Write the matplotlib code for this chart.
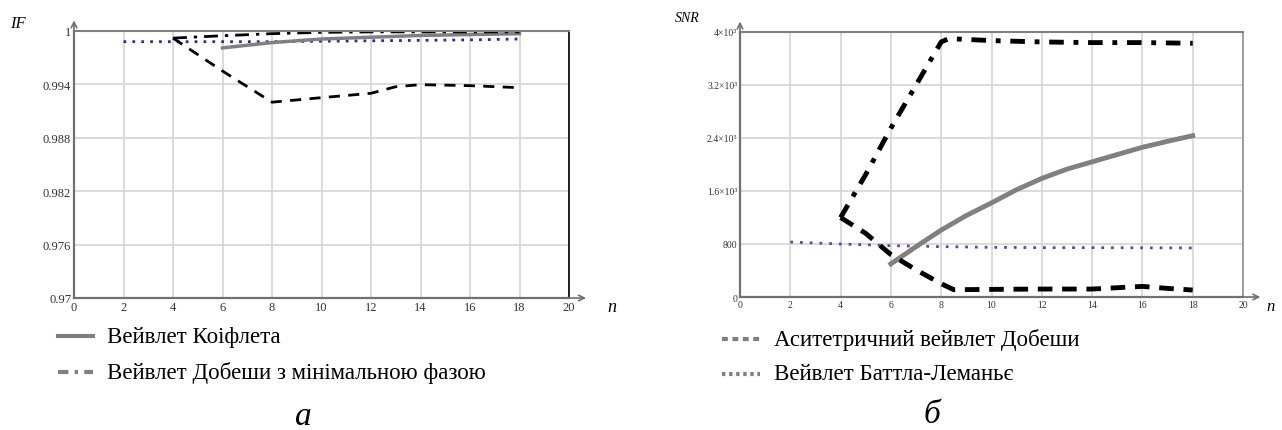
import matplotlib
matplotlib.use("Agg")
import numpy as np
from matplotlib import pyplot as plt
from matplotlib.lines import Line2D

plt.rcParams['font.family'] = ['Liberation Serif', 'DejaVu Serif']

# --- data: panel a (IF) ---
n_coif_a = [6, 8, 10, 12, 14, 16, 18]
if_coif = [0.9981, 0.9987, 0.9991, 0.9993, 0.9995, 0.9996, 0.9997]
n_dmin_a = [4, 6, 8, 10, 12, 14, 16, 18]
if_dmin = [0.9992, 0.99947, 0.9997, 0.99985, 0.9999, 0.9999, 0.9999, 0.9999]
n_dasym_a = [4, 6, 8, 10, 12, 13, 14, 16, 18]
if_dasym = [0.9992, 0.9955, 0.9920, 0.99251, 0.9930, 0.99374, 0.99397, 0.99386, 0.99363]
n_bl_a = [2, 4, 6, 8, 10, 12, 14, 16, 18]
if_bl = [0.9988, 0.9988, 0.9988, 0.9988, 0.99885, 0.9989, 0.99895, 0.999, 0.9991]

# --- data: panel b (SNR) ---
n_coif_b = [6, 7, 8, 9, 10, 11, 12, 13, 14, 15, 16, 17, 18]
snr_coif = [500, 760, 1010, 1230, 1420, 1620, 1790, 1930, 2040, 2150, 2260, 2350, 2435]
n_dmin_b = [4, 5, 6, 7, 8, 8.3, 10, 12, 14, 16, 18]
snr_dmin = [1200, 1850, 2550, 3200, 3850, 3900, 3870, 3850, 3840, 3840, 3830]
n_dasym_b = [4, 5, 6, 7, 8, 8.5, 10, 12, 14, 15, 16, 17, 18]
snr_dasym = [1200, 960, 640, 410, 200, 110, 115, 120, 120, 140, 160, 130, 105]
n_bl_b = [2, 4, 6, 8, 10, 12, 14, 16, 18]
snr_bl = [830, 800, 775, 760, 750, 745, 745, 742, 740]

yt_a = [0.97, 0.976, 0.982, 0.988, 0.994, 1.0]
ytl_a = ['0.97', '0.976', '0.982', '0.988', '0.994', '1']
yt_b = [0, 800, 1600, 2400, 3200, 4000]
ytl_b = ['0', '800', '1.6×10³', '2.4×10³', '3.2×10³', '4×10³']
xt = list(range(0, 21, 2))

W, H = 1282, 431
fig = plt.figure(figsize=(W / 100, H / 100), dpi=100)


def fx(px):
    return px / W


def fy(py):
    return 1 - py / H


def setup(ax, yticks, ylabels, ymin, ymax, tsize, right_color):
    ax.set_xlim(0, 20)
    ax.set_ylim(ymin, ymax)
    ax.set_xticks(xt)
    ax.set_xticklabels([str(v) for v in xt], fontsize=tsize)
    ax.set_yticks(yticks)
    ax.set_yticklabels(ylabels, fontsize=tsize)
    ax.tick_params(length=0, pad=2, colors='#333333')
    ax.grid(True, color='#d4d4d4', lw=1.2)
    for s in ['left', 'bottom']:
        ax.spines[s].set_color('#707070')
        ax.spines[s].set_linewidth(1.6)
    ax.spines['top'].set_color('#808080')
    ax.spines['top'].set_linewidth(1.5)
    ax.spines['right'].set_color(right_color)
    ax.spines['right'].set_linewidth(1.2)
    ax.annotate('', xy=(0, 1.05), xytext=(0, 0), xycoords='axes fraction',
                arrowprops=dict(arrowstyle='->', color='#707070', lw=1.2), annotation_clip=False)
    ax.annotate('', xy=(1.04, 0), xytext=(0, 0), xycoords='axes fraction',
                arrowprops=dict(arrowstyle='->', color='#707070', lw=1.2), annotation_clip=False)


# panel a
ax1 = fig.add_axes([fx(74), fy(299), fx(569 - 74), (299 - 32) / H])
setup(ax1, yt_a, ytl_a, 0.97, 1.0, 9, 'black')
ax1.plot(n_bl_a, if_bl, color='#3a1fb0', lw=2, ls=(0, (1, 2.2)))
ax1.plot(n_coif_a, if_coif, color='#808080', lw=2.5)
ax1.plot(n_dasym_a, if_dasym, color='black', lw=2, ls=(0, (4, 3)))
ax1.plot(n_dmin_a, if_dmin, color='black', lw=2, ls=(0, (5, 2.5, 1.2, 2.5)))
fig.text(fx(10), fy(24), 'IF', style='italic', fontsize=12, va='center')
fig.text(fx(607), fy(308), 'n', style='italic', fontsize=13, va='center')

# panel b
ax2 = fig.add_axes([fx(740), fy(298), fx(1243 - 740), (298 - 33) / H])
setup(ax2, yt_b, ytl_b, 0, 4000, 7, '#909090')
ax2.plot(n_bl_b, snr_bl, color='#6a3fb0', lw=2, ls=(0, (1, 2.5)))
ax2.plot(n_coif_b, snr_coif, color='#808080', lw=3.5)
ax2.plot(n_dasym_b, snr_dasym, color='black', lw=3.5, ls=(0, (3, 2)))
ax2.plot(n_dmin_b, snr_dmin, color='black', lw=3.5, ls=(0, (3, 2, 1, 2)))
fig.text(fx(675), fy(18), 'SNR', style='italic', fontsize=10, va='center')
fig.text(fx(1266), fy(307), 'n', style='italic', fontsize=12, va='center')

# legends
def legend_row(x0, x1, y, style, label):
    fig.add_artist(Line2D([fx(x0), fx(x1)], [fy(y), fy(y)], color='#7f7f7f', lw=3, ls=style))
    fig.text(fx(x1 + 14), fy(y), label, fontsize=16.5, va='center', ha='left')

legend_row(58, 93, 337, '-', 'Вейвлет Коіфлета')
legend_row(58, 93, 373, (0, (2.5, 1.5, 0.8, 1.5)), 'Вейвлет Добеши з мінімальною фазою')
legend_row(722, 760, 340, (0, (1.4, 1.1)), 'Аситетричний вейвлет Добеши')
legend_row(722, 760, 375, (0, (0.8, 0.9)), 'Вейвлет Баттла-Леманьє')

fig.text(fx(303), fy(417), 'а', style='italic', fontsize=24, ha='center', va='center')
fig.text(fx(932), fy(415), 'б', style='italic', fontsize=24, ha='center', va='center')

fig.savefig('out.png', dpi=100)
